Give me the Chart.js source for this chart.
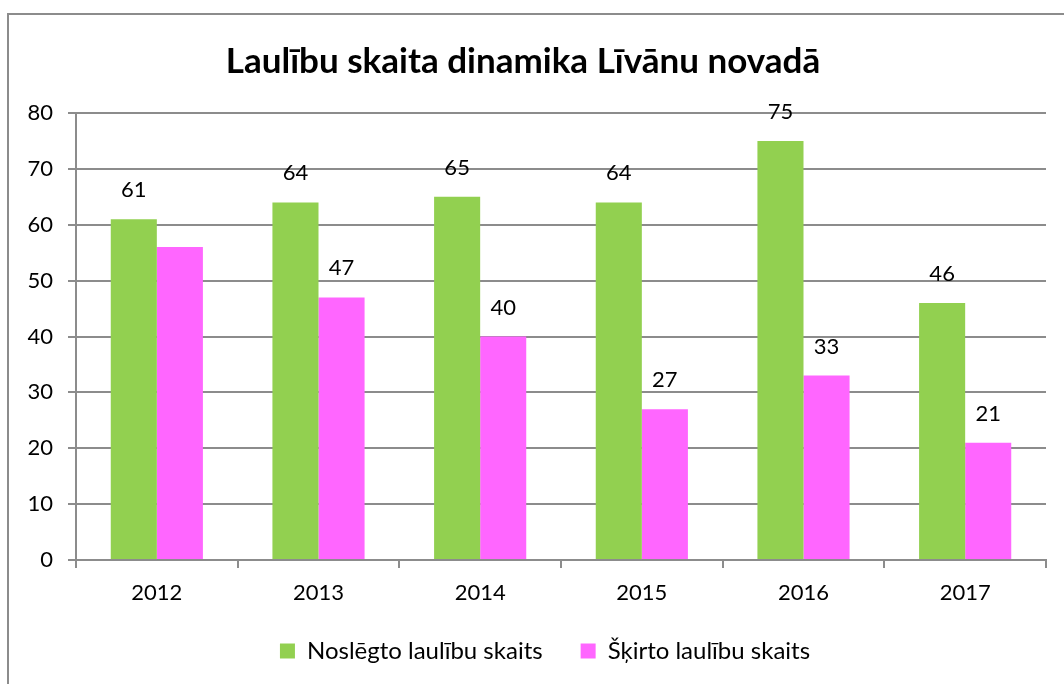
<!DOCTYPE html>
<html>
<head>
<meta charset="utf-8">
<script src="https://cdn.jsdelivr.net/npm/chart.js@4"></script>
<style>
	html, body { margin: 0; padding: 0; background: #fff; overflow: hidden; }
	#wrap { position: relative; width: 1064px; height: 684px; }
	#frame { position: absolute; left: 7px; top: 13px; width: 1100px; height: 700px; border: 2px solid #8c8c8c; box-sizing: border-box; }
	canvas { position: absolute; left: 0; top: 0; }
</style>
</head>
<body>
<div id="wrap">
	<div id="frame"></div>
	<canvas id="statistik-laulibas" width="1064" height="684"></canvas>
</div>
<script>
const years = ["2012", "2013", "2014", "2015", "2016", "2017"];
const noslegto = [61, 64, 65, 64, 75, 46];
const skirto = [56, 47, 40, 27, 33, 21];
const yTicks = [0, 10, 20, 30, 40, 50, 60, 70, 80];
// labels that are not shown in the original (dataset index, bar index)
const noLabel = [[1, 0]];

const fontName = 'Lato, "Open Sans", sans-serif';
const gridColor = '#8c8c8c';

const valueLabels = {
	id: 'valueLabels',
	afterDatasetsDraw(chart) {
		const ctx = chart.ctx;
		ctx.save();
		ctx.font = '22px ' + fontName;
		ctx.fillStyle = '#000';
		ctx.textAlign = 'center';
		ctx.textBaseline = 'middle';
		chart.data.datasets.forEach((ds, di) => {
			chart.getDatasetMeta(di).data.forEach((bar, i) => {
				if (noLabel.some(p => p[0] === di && p[1] === i)) return;
				ctx.fillText(ds.data[i], bar.x, bar.y - 29);
			});
		});
		ctx.restore();
	}
};

// legend sits a bit right of the canvas centre in the original
const legendShift = {
	id: 'legendShift',
	afterLayout(chart) {
		chart.legend.left += 22;
		chart.legend.right += 22;
	}
};

new Chart(document.getElementById("statistik-laulibas"), {
	type: 'bar',
	data: {
		labels: years,
		datasets: [
			{
				label: "Noslēgto laulību skaits",
				backgroundColor: "#92d050",
				data: noslegto
			},
			{
				label: "Šķirto laulību skaits",
				backgroundColor: "#ff66ff",
				data: skirto
			}
		]
	},
	options: {
		responsive: false,
		animation: false,
		layout: { padding: { left: 0, right: 18, top: 0, bottom: 11 } },
		plugins: {
			title: {
				display: true,
				text: 'Laulību skaita dinamika Līvānu novadā',
				color: '#000',
				font: { family: fontName, size: 35, weight: 'bold' },
				padding: { top: 41, bottom: 30 }
			},
			legend: {
				position: 'bottom',
				labels: {
					color: '#000',
					font: { family: fontName, size: 24 },
					boxWidth: 15,
					boxHeight: 15,
					padding: 38
				}
			},
			tooltip: { enabled: false }
		},
		datasets: {
			bar: { barPercentage: 1, categoryPercentage: 0.57 }
		},
		scales: {
			x: {
				grid: { display: true, drawOnChartArea: false, color: gridColor, lineWidth: 2, tickLength: 8, offset: true },
				border: { color: gridColor, width: 2 },
				ticks: { color: '#000', font: { family: fontName, size: 22 }, padding: 12 },
				afterFit: s => { s.height = 41; }
			},
			y: {
				min: 0,
				max: 80,
				afterBuildTicks: s => { s.ticks = yTicks.map(v => ({ value: v })); },
				grid: { color: gridColor, lineWidth: 2, tickLength: 8 },
				border: { color: gridColor, width: 2 },
				ticks: { color: '#000', font: { family: fontName, size: 22 }, padding: 15 },
				afterFit: s => { s.width = 76; }
			}
		}
	},
	plugins: [valueLabels, legendShift]
});
</script>
</body>
</html>
